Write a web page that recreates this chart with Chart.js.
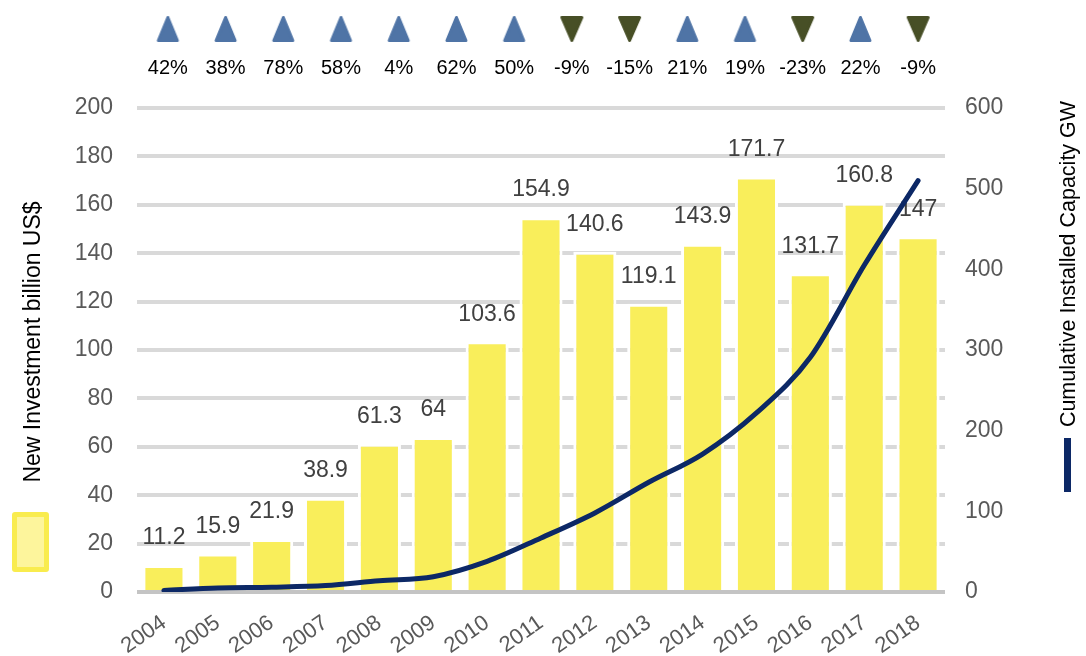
<!DOCTYPE html>
<html>
<head>
<meta charset="utf-8">
<script src="https://cdn.jsdelivr.net/npm/chart.js@4.4.1/dist/chart.umd.min.js"></script>
<style>
  body { margin: 0; background: #fff; font-family: 'Liberation Sans', Arial, sans-serif; }
  #wrap { position: relative; width: 1086px; height: 656px; overflow: hidden; }
  canvas { position: absolute; }
  #main { left: 0; top: 0; }
  #growth { left: 128px; top: 0; }
  .title { position: absolute; white-space: nowrap; color: #000; transform: translate(-50%, -50%) rotate(-90deg); }
  #leftTitle { left: 32px; top: 342px; font-size: 23px; }
  #rightTitle { left: 1068px; top: 264px; font-size: 21.5px; }
  #barKey { position: absolute; left: 12px; top: 512px; width: 27px; height: 50px; border: 5px solid #f9ec4e; background: #fdf59c; border-radius: 3px; }
  #lineKey { position: absolute; left: 1064px; top: 438px; width: 7px; height: 54px; background: #0c2866; }
</style>
</head>
<body>
<div id="wrap">
  <canvas id="main" width="1086" height="656"></canvas>
  <canvas id="growth" width="830" height="90"></canvas>
  <div class="title" id="leftTitle">New Investment billion US$</div>
  <div class="title" id="rightTitle">Cumulative Installed Capacity GW</div>
  <div id="barKey"></div>
  <div id="lineKey"></div>
</div>
<script>
// Chart data
const years = ['2004', '2005', '2006', '2007', '2008', '2009', '2010', '2011', '2012', '2013', '2014', '2015', '2016', '2017', '2018'];
const investment = [11.2, 15.9, 21.9, 38.9, 61.3, 64, 103.6, 154.9, 140.6, 119.1, 143.9, 171.7, 131.7, 160.8, 147];
const capacity = [2, 5, 6, 8, 14, 19, 38, 67, 98, 136, 171, 222, 291, 405, 510];
const growth = [42, 38, 78, 58, 4, 62, 50, -9, -15, 21, 19, -23, 22, -9];
const growthLabels = growth.map(v => v + '%');

const FONT = "'Liberation Sans', Arial, sans-serif";
Chart.defaults.font.family = FONT;

// Draw the value above each bar (before the line is drawn on top)
const barLabels = {
  id: 'barLabels',
  afterDatasetDraw(chart, args) {
    if (args.index !== 0) return;
    const ctx = chart.ctx;
    ctx.save();
    ctx.font = '23px ' + FONT;
    ctx.fillStyle = '#404040';
    ctx.textAlign = 'center';
    ctx.textBaseline = 'middle';
    args.meta.data.forEach((bar, i) => {
      ctx.fillText(String(investment[i]), bar.x, bar.y - 27);
    });
    ctx.restore();
  }
};

new Chart(document.getElementById('main'), {
  data: {
    labels: years,
    datasets: [
      {
        type: 'bar',
        data: investment,
        yAxisID: 'y',
        backgroundColor: '#f9ee5b',
        borderColor: '#ffffff',
        borderWidth: 3,
        barPercentage: 0.8,
        categoryPercentage: 1,
        order: 2
      },
      {
        type: 'line',
        data: capacity,
        yAxisID: 'y2',
        borderColor: '#0c2866',
        borderWidth: 5,
        borderCapStyle: 'round',
        pointRadius: 0,
        cubicInterpolationMode: 'monotone',
        order: 1
      }
    ]
  },
  options: {
    responsive: false,
    animation: false,
    layout: { padding: { top: 108, left: 0, right: 0, bottom: 0 } },
    plugins: { legend: { display: false }, tooltip: { enabled: false } },
    scales: {
      x: {
        grid: { display: false, drawTicks: false },
        border: { display: false },
        ticks: { autoSkip: false, minRotation: 35, maxRotation: 35, color: '#595959', font: { size: 22 }, padding: 18 },
        afterFit: s => { s.height = 64; }
      },
      y: {
        position: 'left',
        min: 0,
        max: 200,
        ticks: { stepSize: 20, color: '#595959', font: { size: 23 }, padding: 24 },
        grid: { color: c => c.tick.value === 0 ? '#c4c4c4' : '#d9d9d9', lineWidth: 4, drawTicks: false },
        border: { display: false },
        afterFit: s => { s.width = 137; }
      },
      y2: {
        position: 'right',
        min: 0,
        max: 600,
        ticks: { stepSize: 100, color: '#595959', font: { size: 23 }, padding: 20 },
        grid: { display: false, drawTicks: false },
        border: { display: false },
        afterFit: s => { s.width = 141; }
      }
    }
  },
  plugins: [barLabels]
});

// Rounded triangle markers for the growth row
function triangle(color, up) {
  const c = document.createElement('canvas');
  c.width = 25; c.height = 30;
  const g = c.getContext('2d');
  g.fillStyle = color;
  g.strokeStyle = color;
  g.lineWidth = 3;
  g.lineJoin = 'round';
  g.beginPath();
  if (up) {
    g.moveTo(12.5, 3.5); g.lineTo(22, 26.5); g.lineTo(3, 26.5);
  } else {
    g.moveTo(2.5, 3.5); g.lineTo(22.5, 3.5); g.lineTo(12.5, 26.5);
  }
  g.closePath();
  g.fill();
  g.stroke();
  return c;
}
const upMark = triangle('#4f74a6', true);
const downMark = triangle('#474f26', false);

new Chart(document.getElementById('growth'), {
  type: 'line',
  data: {
    labels: growthLabels,
    datasets: [{
      data: growth.map(() => 0.54),
      showLine: false,
      pointRadius: 10,
      pointStyle: c => growth[c.dataIndex] >= 0 ? upMark : downMark
    }]
  },
  options: {
    responsive: false,
    animation: false,
    layout: { padding: 0 },
    plugins: { legend: { display: false }, tooltip: { enabled: false } },
    scales: {
      x: {
        offset: true,
        grid: { display: false, drawTicks: false },
        border: { display: false },
        ticks: { color: '#000', font: { size: 20 }, padding: 6, maxRotation: 0, autoSkip: false },
        afterFit: s => { s.height = 40; }
      },
      y: { display: false, min: 0, max: 1 }
    }
  }
});
</script>
</body>
</html>
